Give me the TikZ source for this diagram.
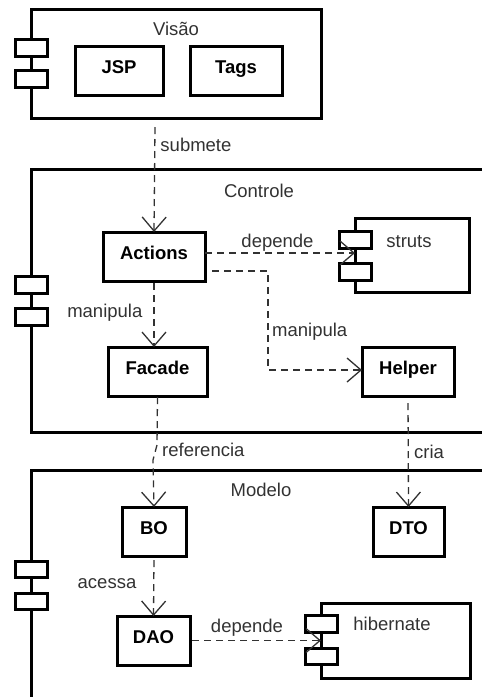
\documentclass[tikz,border=0pt]{standalone}
\usepackage{fontspec}
\setmainfont{Liberation Sans}
\usetikzlibrary{arrows.meta}
\definecolor{mygray}{RGB}{50,50,50}
\tikzset{
    box/.style={draw, line width=3pt, outer sep=0pt, inner sep=0pt, font=\fontsize{18.5}{22}\selectfont\bfseries, text height=10pt, text depth=5pt},
    tab/.style={draw, fill=white, line width=3pt, outer sep=0pt, minimum width=32pt, minimum height=16.5pt},
    wall/.style={line width=3pt},
    dep/.style={-{Straight Barb[length=14pt,width=24pt,line width=1.3pt]}, line width=1.3pt, color=mygray, dash pattern=on 7pt off 5pt},
    lbl/.style={inner sep=0pt, color=mygray, font=\fontsize{18.5}{22}\selectfont},
}
\begin{document}
\begin{tikzpicture}[x=1pt, y=-1pt]
    \useasboundingbox (0, 0) rectangle (482, 697);
    \begin{scope}
        % Visao
        \node[box, minimum width=290pt, minimum height=109pt] (Visao) at (176, 63.5) {};
        \node[tab] (VisaoTabA) at (31, 48) {};
        \node[tab] (VisaoTabB) at (31, 79) {};
        \node[lbl, anchor=base] (VisaoLabel) at (176, 35) {Visão};
        \node[box, minimum width=88pt, minimum height=49pt] (JSP) at (119, 70.5) {JSP};
        \node[box, minimum width=92pt, minimum height=49pt] (Tags) at (236, 70.5) {Tags};
    \end{scope}
    \begin{scope}
        % Controle
        \draw[wall] (482, 169) -- (31, 169) -- (31, 432) -- (482, 432);
        \node[tab] (ControleTabA) at (31, 285) {};
        \node[tab] (ControleTabB) at (31, 317) {};
        \node[lbl, anchor=base] (ControleLabel) at (259, 197) {Controle};
        \node[box, minimum width=102pt, minimum height=49pt] (Actions) at (154, 256.5) {Actions};
        \node[box, minimum width=99pt, minimum height=49pt] (Facade) at (157.5, 371.5) {Facade};
        \node[box, minimum width=92pt, minimum height=49pt] (Helper) at (408, 371.5) {Helper};
        % struts
        \node[box, minimum width=114pt, minimum height=74pt] (struts) at (412, 255.5) {};
        \node[tab] (strutsTabA) at (355, 240) {};
        \node[tab] (strutsTabB) at (355, 272) {};
        \node[lbl, anchor=base] (strutsLabel) at (409, 247) {struts};
    \end{scope}
    \begin{scope}
        % Modelo
        \draw[wall] (482, 470) -- (31, 470) -- (31, 697);
        \node[tab] (ModeloTabA) at (31, 569.5) {};
        \node[tab] (ModeloTabB) at (31, 601.5) {};
        \node[lbl, anchor=base] (ModeloLabel) at (261, 496) {Modelo};
        \node[box, minimum width=64pt, minimum height=49pt] (BO) at (154, 531.5) {BO};
        \node[box, minimum width=71pt, minimum height=49pt] (DTO) at (408.5, 531.5) {DTO};
        \node[box, minimum width=73pt, minimum height=49pt] (DAO) at (153.5, 640.5) {DAO};
        % hibernate
        \node[box, minimum width=149pt, minimum height=75pt] (hibernate) at (395.5, 640.5) {};
        \node[tab] (hibernateTabA) at (321, 624) {};
        \node[tab] (hibernateTabB) at (321, 656.5) {};
        \node[lbl, anchor=base] (hibernateLabel) at (392, 630) {hibernate};
    \end{scope}
    % Free ends
    \coordinate (VisaoOut) at (155, 127);
    \coordinate (ActionsOut) at (212, 271);
    \coordinate (HelperCorner) at (268, 370);
    \coordinate (FacadeKink) at (157, 445);
    \coordinate (BOKink) at (153, 460);
    % Dependencies
    \draw[dep] (VisaoOut) -- (Actions.north) node[lbl, anchor=base west, pos=0.18, xshift=5pt, yshift=-6pt] (submete) {submete};
    \draw[dep] ([yshift=3.5pt]Actions.east) -- ([yshift=2.5pt]struts.west) node[lbl, anchor=base, midway, xshift=-2.5pt, yshift=6pt] (dependeA) {depende};
    \draw[dep, shorten <=2pt] ([xshift=0pt]Actions.south) -- ([xshift=-3.5pt]Facade.north) node[lbl, anchor=base east, midway, xshift=-11pt, yshift=-3pt] (manipulaA) {manipula};
    \draw[dep] (ActionsOut) -| (HelperCorner) -- ([yshift=1.5pt]Helper.west);
    \node[lbl, anchor=base west] (manipulaB) at (272, 336) {manipula};
    \draw[dep, shorten <=1pt] (Facade.south) -- (FacadeKink) -- (BOKink) -- (BO.north);
    \node[lbl, anchor=base west] (referencia) at (162, 456) {referencia};
    \draw[dep, shorten <=7pt] (Helper.south) -- (DTO.north);
    \node[lbl, anchor=base west] (cria) at (414, 458) {cria};
    \draw[dep, shorten <=4pt] (BO.south) -- (DAO.north);
    \node[lbl, anchor=base] (acessa) at (107, 588) {acessa};
    \draw[dep, shorten <=2pt] (DAO.east) -- (hibernate.west);
    \node[lbl, anchor=base] (dependeB) at (247, 632) {depende};
\end{tikzpicture}
\end{document}
